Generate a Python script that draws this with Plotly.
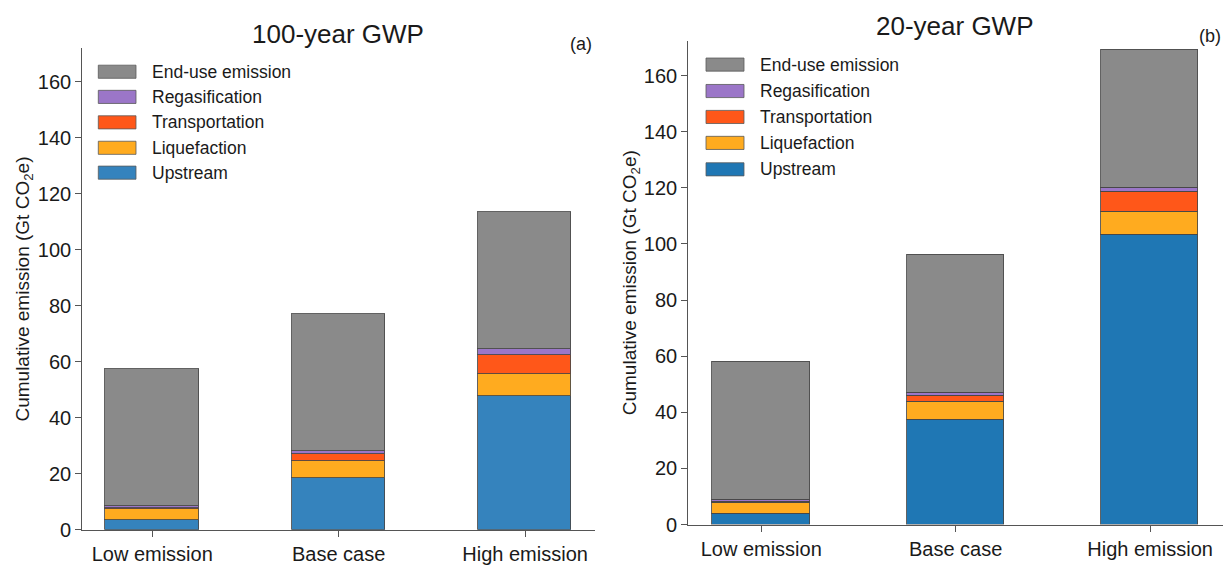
import plotly.graph_objects as go

W, H = 1225, 565

categories = ["Low emission", "Base case", "High emission"]
series_names = ["Upstream", "Liquefaction", "Transportation", "Regasification", "End-use emission"]

# 100-year GWP (a)
upstream_100 = [3.4, 18.5, 47.6]
liquefaction_100 = [4.0, 6.1, 7.9]
transportation_100 = [0.3, 2.3, 6.9]
regasification_100 = [0.7, 1.0, 1.9]
enduse_100 = [49.0, 49.1, 48.9]

# 20-year GWP (b)
upstream_20 = [3.7, 37.4, 103.4]
liquefaction_20 = [4.2, 6.3, 8.0]
transportation_20 = [0.3, 2.1, 7.1]
regasification_20 = [0.6, 1.0, 1.6]
enduse_20 = [49.2, 49.3, 49.1]

y_ticks = [0, 20, 40, 60, 80, 100, 120, 140, 160]

colors_100 = ["#3583BD", "#FFAB1F", "#FF5719", "#9B76C8", "#8A8A8A"]
colors_20 = ["#1F77B4", "#FFAB1F", "#FF5719", "#9B76C8", "#8A8A8A"]

FONT = "Liberation Sans, Arial, sans-serif"


def px_x(p):
    return p / W


def px_y(p):
    return 1 - p / H


fig = go.Figure()

panels = [
    ("x", "y", [upstream_100, liquefaction_100, transportation_100, regasification_100, enduse_100], colors_100),
    ("x2", "y2", [upstream_20, liquefaction_20, transportation_20, regasification_20, enduse_20], colors_20),
]
for xa, ya, data, cols in panels:
    for name, vals, col in zip(series_names, data, cols):
        fig.add_trace(go.Bar(
            x=categories, y=vals, name=name, xaxis=xa, yaxis=ya,
            width=0.5, marker=dict(color=col, line=dict(color="rgba(70,70,70,0.85)", width=1)),
            showlegend=False,
        ))

axis_common = dict(
    showgrid=False, zeroline=False, showline=True, linecolor="#555555", linewidth=1.2,
    ticks="outside", ticklen=6, tickcolor="#555555", tickwidth=1.2,
    tickfont=dict(family=FONT, size=20, color="#1a1a1a"),
)

ytitle = "Cumulative emission (Gt CO<sub>2</sub>e)"

fig.update_layout(
    width=W, height=H, margin=dict(l=0, r=0, t=0, b=0),
    paper_bgcolor="white", plot_bgcolor="white", barmode="stack",
    font=dict(family=FONT, color="#1a1a1a", size=18),
    xaxis=dict(domain=[px_x(82.3), px_x(595)], range=[-0.375, 2.375], anchor="y", **axis_common),
    yaxis=dict(domain=[px_y(541.3), px_y(49.3)], range=[0, 171.9], tickvals=y_ticks, anchor="x",
               title=dict(text=ytitle, font=dict(family=FONT, size=19, color="#1a1a1a"), standoff=3),
               **axis_common),
    xaxis2=dict(domain=[px_x(688.3), px_x(1223)], range=[-0.375, 2.375], anchor="y2", **axis_common),
    yaxis2=dict(domain=[px_y(536), px_y(41.7)], range=[0, 172.4], tickvals=y_ticks, anchor="x2",
                title=dict(text=ytitle, font=dict(family=FONT, size=19, color="#1a1a1a"), standoff=2),
                **axis_common),
    bargap=0,
)

annotations = [
    dict(text="100-year GWP", x=px_x(338), y=px_y(35), font=dict(size=26)),
    dict(text="(a)", x=px_x(581), y=px_y(45), font=dict(size=18)),
    dict(text="20-year GWP", x=px_x(955), y=px_y(27), font=dict(size=26)),
    dict(text="(b)", x=px_x(1210), y=px_y(37), font=dict(size=18)),
]
shapes = []

# manual legends (matplotlib-style wide patches), top entry = End-use emission
legend_specs = [
    (98.3, 136, 150, [73.3, 99, 125, 151, 176.4], colors_100),
    (706, 744, 758, [66, 93, 119.5, 146, 173], colors_20),
]
for x0, x1, xt, rows, cols in legend_specs:
    order = list(range(len(series_names)))[::-1]
    for row_y, idx in zip(rows, order):
        shapes.append(dict(type="rect", xref="paper", yref="paper",
                           x0=px_x(x0), x1=px_x(x1), y0=px_y(row_y + 6.7), y1=px_y(row_y - 6.7),
                           fillcolor=cols[idx], line=dict(color="rgba(90,90,90,0.8)", width=1)))
        annotations.append(dict(text=series_names[idx], x=px_x(xt), y=px_y(row_y), xanchor="left",
                                font=dict(size=17.5)))

for a in annotations:
    a.setdefault("xanchor", "center")
    a.update(xref="paper", yref="paper", yanchor="middle", showarrow=False)
    a["font"] = dict(family=FONT, color="#1a1a1a", **a["font"])

fig.update_layout(annotations=annotations, shapes=shapes)

fig.write_html("out.html")
